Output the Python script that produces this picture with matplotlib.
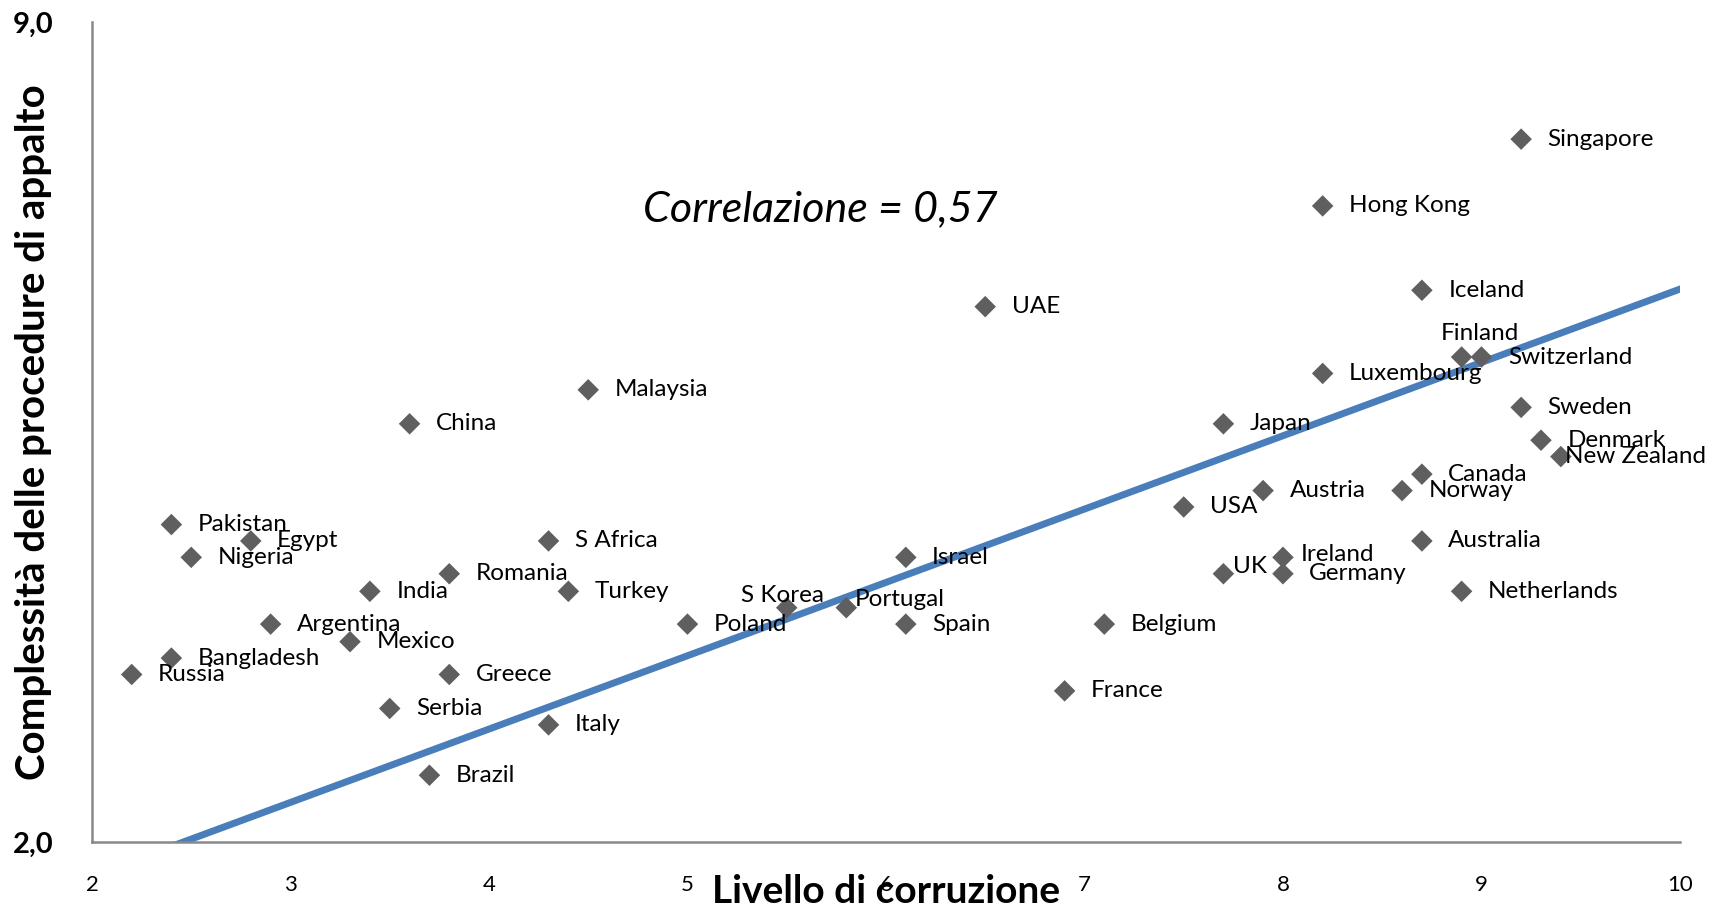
import matplotlib
matplotlib.use('Agg')
import matplotlib.pyplot as plt
import numpy as np

plt.rcParams['font.family'] = ['Lato', 'DejaVu Sans']

# values
countries = ['Singapore', 'Hong Kong', 'Iceland', 'UAE', 'Finland', 'Switzerland',
             'Luxembourg', 'Malaysia', 'China', 'Japan', 'Sweden', 'Denmark',
             'New Zealand', 'Canada', 'Austria', 'Norway', 'USA', 'Pakistan',
             'Egypt', 'S Africa', 'Australia', 'Nigeria', 'Israel', 'Ireland',
             'Romania', 'UK', 'Germany', 'India', 'Turkey', 'Netherlands',
             'S Korea', 'Portugal', 'Argentina', 'Poland', 'Spain', 'Belgium',
             'Mexico', 'Bangladesh', 'Russia', 'Greece', 'France', 'Serbia',
             'Italy', 'Brazil']
corruption = [9.2, 8.2, 8.7, 6.5, 8.9, 9.0,
              8.2, 4.5, 3.6, 7.7, 9.2, 9.3,
              9.4, 8.7, 7.9, 8.6, 7.5, 2.4,
              2.8, 4.3, 8.7, 2.5, 6.1, 8.0,
              3.8, 7.7, 8.0, 3.4, 4.4, 8.9,
              5.5, 5.8, 2.9, 5.0, 6.1, 7.1,
              3.3, 2.4, 2.2, 3.8, 6.9, 3.5,
              4.3, 3.7]
complexity = [8.00, 7.43, 6.71, 6.57, 6.14, 6.14,
              6.00, 5.86, 5.57, 5.57, 5.71, 5.43,
              5.29, 5.14, 5.00, 5.00, 4.86, 4.71,
              4.57, 4.57, 4.57, 4.43, 4.43, 4.43,
              4.29, 4.29, 4.29, 4.14, 4.14, 4.14,
              4.00, 4.00, 3.86, 3.86, 3.86, 3.86,
              3.71, 3.57, 3.43, 3.43, 3.29, 3.14,
              3.00, 2.57]

trend_slope = 0.626
trend_intercept = 0.46
corr_text = 'Correlazione = 0,57'

# label placement tweaks (offset points), default is to the right
label_offsets = {
    'Finland': (13, 17, 'center'),
    'S Korea': (-3, 9, 'center'),
    'Portugal': (6, 6, 'left'),
    'New Zealand': (3, 0, 'left'),
    'UK': (7, 5, 'left'),
    'Ireland': (13, 2, 'left'),
}

fig = plt.figure(figsize=(17.13, 9.09), dpi=100)
ax = fig.add_axes([0.0537, 0.0737, 0.927, 0.9021])

# trend line
tx = np.array([2.2, 10.0])
ax.plot(tx, trend_slope * tx + trend_intercept, color='#4a7ebb', lw=5, zorder=2)

ax.scatter(corruption, complexity, marker='D', s=120, color='#5f5f5f',
           edgecolors='none', zorder=3)

for name, x, y in zip(countries, corruption, complexity):
    dx, dy, ha = label_offsets.get(name, (19, 0, 'left'))
    ax.annotate(name, (x, y), xytext=(dx, dy), textcoords='offset points',
                ha=ha, va='center', fontsize=17.5, color='black', zorder=4)

ax.text(5.67, 7.40, corr_text, fontsize=31, style='italic',
        ha='center', va='center')

ax.set_xlim(2, 10)
ax.set_ylim(2, 9)
ax.set_xticks(range(2, 11))
ax.set_yticks([2, 9])
ax.set_yticklabels(['2,0', '9,0'], fontsize=21, fontweight='bold')
ax.tick_params(axis='x', length=0, pad=24, labelsize=16)
ax.tick_params(axis='y', length=0, pad=28)

for s in ['top', 'right']:
    ax.spines[s].set_visible(False)
for s in ['left', 'bottom']:
    ax.spines[s].set_color('#888888')
    ax.spines[s].set_linewidth(1.8)

ax.set_xlabel('Livello di corruzione', fontsize=28, fontweight='bold')
ax.xaxis.set_label_coords(0.5, -0.06)
ax.xaxis.label.set_verticalalignment('center')
ax.set_ylabel('Complessità delle procedure di appalto', fontsize=29, fontweight='bold')
ax.yaxis.set_label_coords(-0.037, 0.5)
ax.yaxis.label.set_verticalalignment('center')

fig.savefig('out.png', dpi=100)
